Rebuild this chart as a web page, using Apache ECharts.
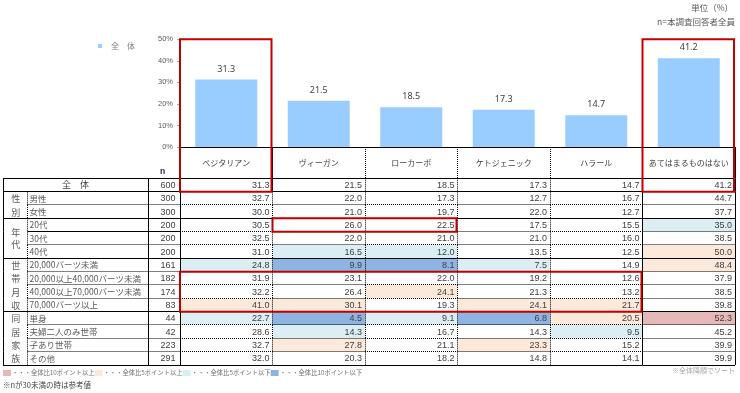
<!DOCTYPE html>
<html><head><meta charset="utf-8">
<script src="https://cdn.jsdelivr.net/npm/echarts@6/dist/echarts.min.js"></script>
<style>html,body{margin:0;padding:0;background:#fff}#c{width:740px;height:393px}</style>
</head><body><div id="c"></div>
<script>
// ---------- data ----------
const categories = ['ベジタリアン','ヴィーガン','ローカーボ','ケトジェニック','ハラール','あてはまるものはない'];
const overallValues = [31.3, 21.5, 18.5, 17.3, 14.7, 41.2];
const yTickValues = [0, 10, 20, 30, 40, 50];
const rowLabels = ['全　体','男性','女性','20代','30代','40代','20,000バーツ未満','20,000以上40,000バーツ未満','40,000以上70,000バーツ未満','70,000バーツ以上','単身','夫婦二人のみ世帯','子あり世帯','その他'];
const rowN = [600, 300, 300, 200, 200, 200, 161, 182, 174, 83, 44, 42, 223, 291];
const row00 = [31.3, 21.5, 18.5, 17.3, 14.7, 41.2];
const row01 = [32.7, 22.0, 17.3, 12.7, 16.7, 44.7];
const row02 = [30.0, 21.0, 19.7, 22.0, 12.7, 37.7];
const row03 = [30.5, 26.0, 22.5, 17.5, 15.5, 35.0];
const row04 = [32.5, 22.0, 21.0, 21.0, 16.0, 38.5];
const row05 = [31.0, 16.5, 12.0, 13.5, 12.5, 50.0];
const row06 = [24.8, 9.9, 8.1, 7.5, 14.9, 48.4];
const row07 = [31.9, 23.1, 22.0, 19.2, 12.6, 37.9];
const row08 = [32.2, 26.4, 24.1, 21.3, 13.2, 38.5];
const row09 = [41.0, 30.1, 19.3, 24.1, 21.7, 39.8];
const row10 = [22.7, 4.5, 9.1, 6.8, 20.5, 52.3];
const row11 = [28.6, 14.3, 16.7, 14.3, 9.5, 45.2];
const row12 = [32.7, 27.8, 21.1, 23.3, 15.2, 39.9];
const row13 = [32.0, 20.3, 18.2, 14.8, 14.1, 39.9];
const tableRows = [row00,row01,row02,row03,row04,row05,row06,row07,row08,row09,row10,row11,row12,row13];
const groupNames = ['性別','年代','世帯月収','同居家族'];
const groupStart = [1, 3, 6, 10];
const groupEnd = [2, 5, 9, 13];
// highlighted (red) boxes: column range, row range, extends into chart
const boxCol0 = [0, 5, 1, 0];
const boxCol1 = [0, 5, 2, 4];
const boxRow0 = [0, 0, 3, 7];
const boxRow1 = [0, 0, 3, 9];
const boxIntoChart = [1, 1, 0, 0];

// ---------- styling ----------
const CJK = '"Noto Sans CJK JP", sans-serif';
const NUM = '"Liberation Sans Narrow", "Liberation Sans", sans-serif';
const C_PINK = '#E6B9B8', C_PEACH = '#FDE9D9', C_LBLUE = '#DAEEF3', C_BLUE = '#8DB4E2';
const CHART_TOP = 39.3, CHART_H = 107.7, TABLE_TOP = 178.3, TABLE_H = 186.7;
const HEADER_H = TABLE_TOP - (CHART_TOP + CHART_H);
const X_OUTER = 3, X_GROUP = 27.5, X_NCOL = 148;

const groupEndRows = groupEnd.concat([0]);
function cellColor(v, c) {
  const d = Math.round((v - overallValues[c]) * 10) / 10;
  if (d >= 10) return C_PINK;
  if (d >= 5) return C_PEACH;
  if (d <= -10) return C_BLUE;
  if (d <= -5) return C_LBLUE;
  return null;
}
function px(v) { return Math.floor(v) + 0.5; }
function ln(x1, y1, x2, y2, dotted) {
  return { type: 'line', shape: { x1: x1, y1: y1, x2: x2, y2: y2 },
    style: { stroke: '#000', lineWidth: 1, lineDash: dotted ? [1, 1] : null } };
}
function cellBox(api, c, r) {
  const p = api.coord([c, r]); const s = api.size([1, 1]);
  return { x0: p[0] - s[0] / 2, x1: p[0] + s[0] / 2, y0: p[1] - s[1] / 2, y1: p[1] + s[1] / 2, cx: p[0], cy: p[1], w: s[0], h: s[1] };
}

const cellData = [];
tableRows.forEach((row, r) => row.forEach((v, c) => cellData.push([c, r, v])));
const rowData = rowLabels.map((l, r) => [0, r]);
const groupData = groupNames.map((g, i) => [0, groupStart[i], 0, groupEnd[i], i]);
const headerData = categories.map((c, i) => [i, 0]);
const boxData = boxCol0.map((c, i) => [boxCol0[i], boxRow0[i], boxCol1[i], boxRow1[i], boxIntoChart[i]]);

const chart = echarts.init(document.getElementById('c'), null, { renderer: 'canvas' });
chart.setOption({
  animation: false,
  textStyle: { fontFamily: CJK },
  legend: {
    data: ['全　体'], left: 93, top: 37, icon: 'rect', itemWidth: 4, itemHeight: 4,
    textStyle: { fontSize: 8, color: '#808080', fontFamily: CJK, padding: [0, 0, 0, 4] }
  },
  grid: [
    { left: 180, right: 5, top: CHART_TOP, height: CHART_H, containLabel: false },
    { left: 180, right: 5, top: TABLE_TOP, height: TABLE_H, containLabel: false }
  ],
  xAxis: [
    { type: 'category', gridIndex: 0, data: categories,
      axisLine: { lineStyle: { color: '#000', width: 1 } }, axisTick: { show: false },
      axisLabel: { interval: 0, fontSize: 8, color: '#404040', fontFamily: CJK, margin: 16, verticalAlign: 'middle' } },
    { type: 'category', gridIndex: 1, data: categories, show: false }
  ],
  yAxis: [
    { type: 'value', gridIndex: 0, min: yTickValues[0], max: yTickValues[yTickValues.length - 1], interval: 10,
      axisLine: { show: false }, splitLine: { show: false },
      axisTick: { show: true, length: 3, lineStyle: { color: '#A6A6A6' } },
      axisLabel: { formatter: '{value}%', fontSize: 7.5, color: '#595959', fontFamily: NUM, margin: 7 } },
    { type: 'category', gridIndex: 1, data: rowLabels, inverse: true, show: false }
  ],
  series: [
    { name: '全　体', type: 'bar', xAxisIndex: 0, yAxisIndex: 0, data: overallValues, barWidth: 62,
      itemStyle: { color: '#99CCFF' },
      label: { show: true, position: 'top', distance: 6, fontSize: 9, color: '#404040', fontFamily: '"Noto Sans", sans-serif',
        formatter: p => p.value.toFixed(1) } },
    // cell fills
    { type: 'custom', xAxisIndex: 1, yAxisIndex: 1, z: 1, clip: false, data: cellData, encode: { x: 0, y: 1 },
      renderItem: function (params, api) {
        const c = api.value(0), r = api.value(1), v = api.value(2);
        const b = cellBox(api, c, r);
        const fill = cellColor(v, c);
        if (!fill) return { type: 'group', children: [] };
        return { type: 'rect', shape: { x: b.x0, y: b.y0, width: b.w, height: b.h }, style: { fill: fill } };
      } },
    // cell texts + borders
    { type: 'custom', xAxisIndex: 1, yAxisIndex: 1, z: 3, clip: false, data: cellData, encode: { x: 0, y: 1 },
      renderItem: function (params, api) {
        const c = api.value(0), r = api.value(1), v = api.value(2);
        const b = cellBox(api, c, r);
        const ch = [];
        ch.push({ type: 'text', style: { text: v.toFixed(1), x: b.x1 - 3, y: b.cy + 0.5, align: 'right', verticalAlign: 'middle',
          fill: '#404040', fontSize: 9, fontFamily: NUM } });
        const solidBottom = groupEndRows.indexOf(r) >= 0;
        ch.push(ln(b.x0, px(b.y1), b.x1, px(b.y1), !solidBottom));
        const solidRight = c >= 4 || (c === 0 && r === 0);
        ch.push(ln(px(b.x1), b.y0, px(b.x1), b.y1, !solidRight));
        if (r === 0) ch.push(ln(b.x0, px(b.y0), b.x1, px(b.y0), false));
        if (c === 0) ch.push(ln(px(b.x0), b.y0, px(b.x0), b.y1, false));
        return { type: 'group', children: ch };
      } },
    // header dividers
    { type: 'custom', xAxisIndex: 1, yAxisIndex: 1, z: 3, clip: false, data: headerData, encode: { x: 0, y: 1 },
      renderItem: function (params, api) {
        const c = api.value(0);
        const b = cellBox(api, c, 0);
        const top = b.y0 - HEADER_H;
        const ch = [ln(px(b.x1), top, px(b.x1), b.y0, !(c === 0 || c >= 4))];
        if (c === 0) ch.push(ln(px(b.x0), top, px(b.x0), b.y0, false));
        return { type: 'group', children: ch };
      } },
    // row headers (label + n)
    { type: 'custom', xAxisIndex: 1, yAxisIndex: 1, z: 3, clip: false, data: rowData, encode: { x: 0, y: 1 },
      renderItem: function (params, api) {
        const r = api.value(1);
        const b = cellBox(api, 0, r);
        const ch = [];
        const xl = b.x0;
        if (r === 0) {
          ch.push({ type: 'text', style: { text: rowLabels[r], x: (X_OUTER + X_NCOL) / 2, y: b.cy, align: 'center', verticalAlign: 'middle', fill: '#404040', fontSize: 9, fontFamily: CJK } });
          ch.push(ln(X_OUTER, px(b.y0), xl, px(b.y0), false));
        } else {
          ch.push({ type: 'text', style: { text: rowLabels[r], x: X_GROUP + 2, y: b.cy, align: 'left', verticalAlign: 'middle', fill: '#595959', fontSize: 8.5, fontFamily: CJK } });
          ch.push(ln(px(X_GROUP), b.y0, px(X_GROUP), b.y1, true));
        }
        ch.push({ type: 'text', style: { text: String(rowN[r]), x: xl - 4.5, y: b.cy + 0.5, align: 'right', verticalAlign: 'middle', fill: '#404040', fontSize: 9, fontFamily: NUM } });
        const solidBottom = groupEndRows.indexOf(r) >= 0;
        if (solidBottom) ch.push(ln(X_OUTER, px(b.y1), xl, px(b.y1), false));
        else ch.push(ln(X_GROUP, px(b.y1), xl, px(b.y1), r !== 3));
        ch.push(ln(px(X_OUTER), b.y0, px(X_OUTER), b.y1, false));
        ch.push(ln(px(X_NCOL), b.y0, px(X_NCOL), b.y1, false));
        return { type: 'group', children: ch };
      } },
    // group labels
    { type: 'custom', xAxisIndex: 1, yAxisIndex: 1, z: 3, clip: false, data: groupData, encode: { x: [0, 2], y: [1, 3] },
      renderItem: function (params, api) {
        const r0 = api.value(1), r1 = api.value(3), gi = api.value(4);
        const bt = cellBox(api, 0, r0), bb = cellBox(api, 0, r1);
        const name = groupNames[gi];
        const nRows = r1 - r0 + 1;
        const step = name.length === nRows ? bt.h : 12;
        const mid = (bt.y0 + bb.y1) / 2;
        const ch = [];
        for (let k = 0; k < name.length; k++) {
          const y = mid + (k - (name.length - 1) / 2) * step;
          ch.push({ type: 'text', style: { text: name[k], x: (X_OUTER + X_GROUP) / 2 + 0.5, y: y + 0.5, align: 'center', verticalAlign: 'middle', fill: '#595959', fontSize: 9, fontFamily: CJK } });
        }
        return { type: 'group', children: ch };
      } },
    // red highlight boxes
    { type: 'custom', xAxisIndex: 1, yAxisIndex: 1, z: 10, clip: false, data: boxData, encode: { x: [0, 2], y: [1, 3] },
      renderItem: function (params, api) {
        const c0 = api.value(0), r0 = api.value(1), c1 = api.value(2), r1 = api.value(3), into = api.value(4);
        const a = cellBox(api, c0, r0), z = cellBox(api, c1, r1);
        const top = into ? CHART_TOP : a.y0;
        return { type: 'rect', shape: { x: a.x0, y: top, width: z.x1 - a.x0 - 1, height: z.y1 - top },
          style: { fill: null, stroke: '#C00000', lineWidth: 2 } };
      } }
  ],
  graphic: [
    { type: 'text', right: 7, top: 4, style: { text: '単位（%）', fill: '#595959', fontSize: 8.5, fontFamily: CJK } },
    { type: 'text', right: 5, top: 18, style: { text: 'n=本調査回答者全員', fill: '#595959', fontSize: 8.5, fontFamily: CJK } },
    { type: 'text', left: 160, top: 167, style: { text: 'n', fill: '#1F2A44', fontSize: 8.5, fontWeight: 'bold', fontFamily: NUM } },
    { type: 'text', left: 3, top: 367, style: {
      text: '{p| }{t|・・・全体比10ポイント以上}{q| }{t|・・・全体比5ポイント以上}{l| }{t|・・・全体比5ポイント以下}{b| }{t|・・・全体比10ポイント以下}',
      rich: {
        p: { backgroundColor: C_PINK, width: 8, height: 6 },
        q: { backgroundColor: C_PEACH, width: 8, height: 6 },
        l: { backgroundColor: C_LBLUE, width: 8, height: 6 },
        b: { backgroundColor: C_BLUE, width: 8, height: 6 },
        t: { fill: '#6F6F6F', fontSize: 6.3, fontFamily: CJK, padding: [0, 0, 0, 1] }
      } } },
    { type: 'text', right: 5, top: 367, style: { text: '※全体降順でソート', fill: '#A6A6A6', fontSize: 7, fontFamily: CJK } },
    { type: 'text', left: 3, top: 381, style: { text: '※nが30未満の時は参考値', fill: '#404040', fontSize: 7.5, fontFamily: CJK } }
  ]
});
</script></body></html>
